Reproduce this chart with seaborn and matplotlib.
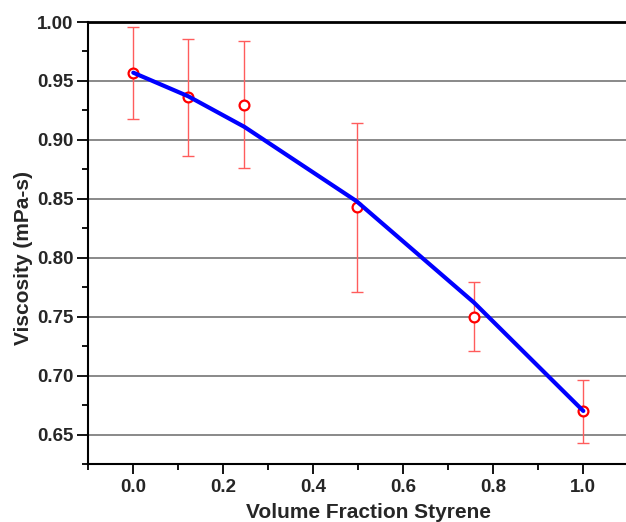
import matplotlib
matplotlib.use("Agg")
import matplotlib.pyplot as plt
import seaborn as sns
import pandas as pd
from matplotlib.ticker import MultipleLocator

# Data
volume_fraction = [0.0, 0.122, 0.247, 0.496, 0.757, 1.0]
viscosity = [0.957, 0.936, 0.930, 0.843, 0.750, 0.670]
err_upper = [0.996, 0.986, 0.984, 0.914, 0.779, 0.696]
err_lower = [0.918, 0.886, 0.876, 0.771, 0.721, 0.643]
fit_values = [0.957, 0.937, 0.911, 0.848, 0.762, 0.670]

sns.set_style("ticks")
plt.rcParams['font.family'] = ['Liberation Sans', 'DejaVu Sans']
plt.rcParams['font.weight'] = 'bold'

df = pd.DataFrame({"x": volume_fraction, "y": viscosity, "fit": fit_values})
yerr = [[v - lo for v, lo in zip(viscosity, err_lower)],
        [hi - v for v, hi in zip(viscosity, err_upper)]]

fig = plt.figure(figsize=(6.26, 5.22), dpi=100)
ax = fig.add_axes([88.3 / 626, 1 - 464 / 522, 1 - 88.3 / 626, (464 - 22) / 522])

# gridlines at major y ticks
ax.set_axisbelow(True)
ax.yaxis.grid(True, which='major', color='#808080', linewidth=1.3)
ax.xaxis.grid(False)

ax.errorbar(volume_fraction, viscosity, yerr=yerr, fmt='none', ecolor='#ff5c5c',
            elinewidth=1.0, capsize=4.5, capthick=1.0, zorder=3)
sns.scatterplot(data=df, x="x", y="y", ax=ax, marker='o', s=50,
                facecolor='white', edgecolor='#ff0000', linewidth=1.6, zorder=4)
sns.lineplot(data=df, x="x", y="fit", ax=ax, color='#0000ff', linewidth=3.0,
             zorder=5, solid_capstyle='round')

ax.set_xticks([0.0, 0.2, 0.4, 0.6, 0.8, 1.0])
ax.set_xticklabels(['0.0', '0.2', '0.4', '0.6', '0.8', '1.0'])
ax.set_yticks([0.65, 0.70, 0.75, 0.80, 0.85, 0.90, 0.95, 1.00])
ax.set_yticklabels(['0.65', '0.70', '0.75', '0.80', '0.85', '0.90', '0.95', '1.00'])
ax.xaxis.set_minor_locator(MultipleLocator(0.1))
ax.yaxis.set_minor_locator(MultipleLocator(0.025))
ax.set_xlim(-0.1, -0.1 + (626 - 88.3) / 450)
ax.set_ylim(0.625, 1.0)

ax.tick_params(axis='both', which='major', direction='out', length=8, width=1.3,
               labelsize=13.5, color='black', pad=2.5)
ax.tick_params(axis='both', which='minor', direction='out', length=4, width=1.3,
               color='black')
ax.tick_params(axis='x', which='major', length=7, pad=4)
for lab in ax.get_xticklabels() + ax.get_yticklabels():
    lab.set_fontweight('bold')

for side in ['left', 'bottom']:
    ax.spines[side].set_color('black')
    ax.spines[side].set_linewidth(1.5)
ax.spines['top'].set_color('black')
ax.spines['top'].set_linewidth(2.0)
ax.spines['right'].set_visible(False)

ax.set_xlabel('Volume Fraction Styrene', fontsize=15, fontweight='bold',
              labelpad=4.5, x=0.522)
ax.set_ylabel('Viscosity (mPa-s)', fontsize=15, fontweight='bold')
ax.yaxis.set_label_coords(-0.103, 0.465)

fig.savefig('out.png', dpi=100)
